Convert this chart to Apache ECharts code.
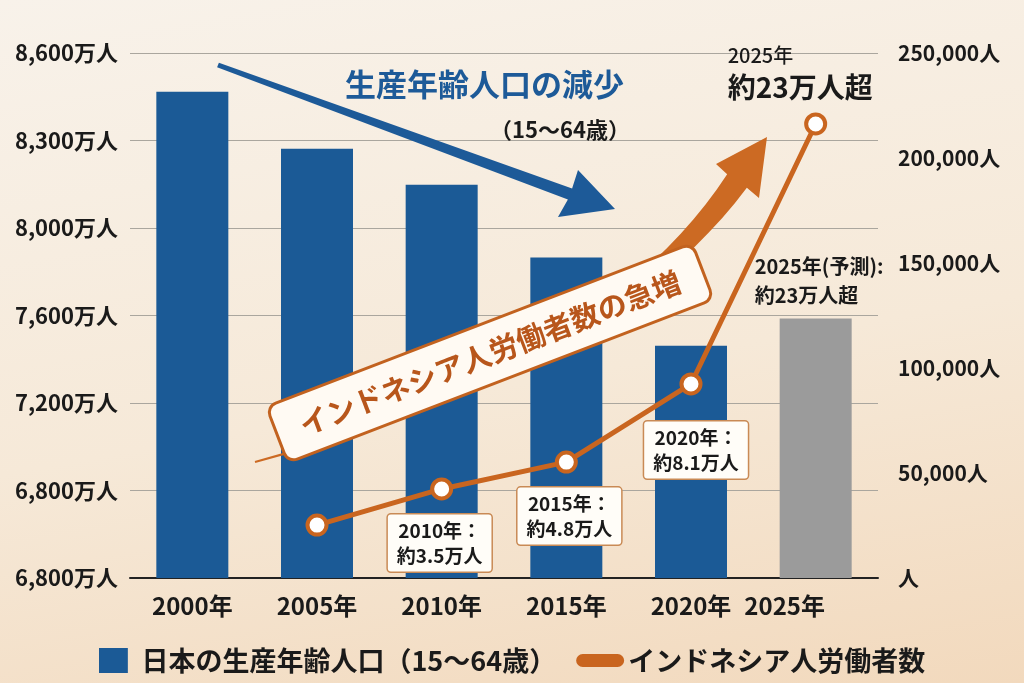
<!DOCTYPE html>
<html>
<head>
<meta charset="utf-8">
<script src="https://cdn.jsdelivr.net/npm/echarts@6/dist/echarts.min.js"></script>
<style>
  html, body { margin: 0; padding: 0; }
  #chart {
    width: 1024px; height: 683px;
    background: linear-gradient(170deg, #f8f2ea 0%, #f6e9d8 55%, #f2d9bd 100%);
  }
</style>
</head>
<body>
<div id="chart"></div>
<script>
// data
var years = ['2000年', '2005年', '2010年', '2015年', '2020年', '2025年'];
var workforce = [8467, 8272, 8148, 7865, 7462, 7586];          // 万人, 2025 = 予測
var indonesians = [null, 25200, 42400, 55200, 92400, 216200];  // 人
var leftTickValues = [6400, 6800, 7200, 7600, 8000, 8300, 8600];
var leftTickLabels = ['6,800万人', '6,800万人', '7,200万人', '7,600万人', '8,000万人', '8,300万人', '8,600万人'];
var rightTickLabels = ['人', '50,000人', '100,000人', '150,000人', '200,000人', '250,000人'];
var pointNotes = ['', '', '2010年：\n約3.5万人', '2015年：\n約4.8万人', '2020年：\n約8.1万人', ''];

var FONT = '"Noto Sans CJK JP", "Noto Sans", sans-serif';
var BLUE = '#1b5a96';
var ORANGE = '#c9651f';

// left axis ticks are not evenly spaced in value, so map 万人 onto tick slots
function toSlot(v) {
    for (var i = 1; i < leftTickValues.length; i++) {
        if (v <= leftTickValues[i]) {
            return (i - 1) + (v - leftTickValues[i - 1]) / (leftTickValues[i] - leftTickValues[i - 1]);
        }
    }
    return leftTickValues.length - 1;
}

var chart = echarts.init(document.getElementById('chart'));

// orange swoosh arrow
function swoosh() {
    var P0 = [255, 462], C = [607, 367], P2 = [737, 181];
    var left = [], right = [];
    for (var k = 0; k <= 24; k++) {
        var t = k / 24;
        var x = (1 - t) * (1 - t) * P0[0] + 2 * t * (1 - t) * C[0] + t * t * P2[0];
        var y = (1 - t) * (1 - t) * P0[1] + 2 * t * (1 - t) * C[1] + t * t * P2[1];
        var dx = 2 * (1 - t) * (C[0] - P0[0]) + 2 * t * (P2[0] - C[0]);
        var dy = 2 * (1 - t) * (C[1] - P0[1]) + 2 * t * (P2[1] - C[1]);
        var len = Math.sqrt(dx * dx + dy * dy);
        var nx = -dy / len, ny = dx / len;
        var w = 1 + 11 * Math.pow(t, 1.4);
        left.push([x - w * nx, y - w * ny]);
        right.push([x + w * nx, y + w * ny]);
    }
    return left.concat([[716, 164], [767, 137], [759, 198]], right.reverse());
}

var option = {
    backgroundColor: 'transparent',
    textStyle: { fontFamily: FONT },
    grid: { left: 130, right: 146, top: 53, bottom: 105 },
    legend: {
        left: 94,
        top: 642,
        itemWidth: 46,
        itemHeight: 25,
        itemGap: 20,
        textStyle: { fontSize: 27, fontWeight: 'bold', color: '#1a1a1a', fontFamily: FONT },
        data: [
            { name: '日本の生産年齢人口（15〜64歳）', icon: 'path://M0,0H30V26H0Z', itemStyle: { color: BLUE } },
            { name: 'インドネシア人労働者数', icon: 'path://M6,0H44A6,6 0 0 1 44,12H6A6,6 0 0 1 6,0Z', itemStyle: { color: ORANGE } }
        ]
    },
    xAxis: {
        type: 'category',
        data: years,
        axisLine: { lineStyle: { color: '#222', width: 2 } },
        axisTick: { show: false },
        axisLabel: {
            interval: 0,
            margin: 16,
            fontSize: 24,
            fontWeight: 'bold',
            color: '#1a1a1a',
            formatter: function (v, i) { return i === 5 ? '{s|' + v + '}' : v; },
            rich: { s: { fontSize: 24, fontWeight: 'bold', color: '#1a1a1a', padding: [0, 62, 0, 0] } }
        }
    },
    yAxis: [
        {
            type: 'value',
            min: 0, max: 6, interval: 1,
            axisLine: { show: false },
            axisTick: { show: false },
            splitLine: { lineStyle: { color: '#aaa69e', width: 1.2 } },
            axisLabel: {
                margin: 12,
                fontSize: 22,
                fontWeight: 'bold',
                color: '#1a1a1a',
                formatter: function (v) { return leftTickLabels[v]; }
            }
        },
        {
            type: 'value',
            position: 'right',
            min: 0, max: 250000, interval: 50000,
            axisLine: { show: false },
            axisTick: { show: false },
            splitLine: { show: false },
            axisLabel: {
                margin: 20,
                fontSize: 21,
                fontWeight: 'bold',
                color: '#1a1a1a',
                padding: [8, 0, 0, 0],
                formatter: function (v) { return rightTickLabels[v / 50000]; }
            }
        }
    ],
    series: [
        {
            name: '日本の生産年齢人口（15〜64歳）',
            type: 'bar',
            barWidth: 72,
            itemStyle: { color: BLUE },
            data: workforce.map(function (v, i) {
                var item = { value: toSlot(v) };
                if (i === 5) {
                    item.itemStyle = { color: '#9b9b9b' };
                    item.label = {
                        show: true,
                        position: 'top',
                        align: 'left',
                        offset: [-61, -4],
                        formatter: '2025年(予測):\n約23万人超',
                        fontSize: 20,
                        lineHeight: 29,
                        fontWeight: 'bold',
                        color: '#1a1a1a'
                    };
                }
                return item;
            })
        },
        {
            name: 'インドネシア人労働者数',
            type: 'line',
            yAxisIndex: 1,
            z: 5,
            symbol: 'circle',
            symbolSize: 19,
            lineStyle: { color: ORANGE, width: 5 },
            itemStyle: { color: '#fff', borderColor: ORANGE, borderWidth: 4 },
            data: indonesians.map(function (v, i) {
                var item = { value: v };
                if (pointNotes[i]) {
                    item.label = {
                        show: true,
                        position: 'bottom',
                        distance: i === 4 ? 26 : 14,
                        offset: [i === 2 ? -2 : (i === 3 ? 3 : 5), 0],
                        formatter: pointNotes[i],
                        fontSize: 19,
                        lineHeight: 25,
                        fontWeight: 'bold',
                        color: '#1a1a1a',
                        backgroundColor: '#fffdf8',
                        borderColor: '#c98a55',
                        borderWidth: 1.5,
                        borderRadius: 3,
                        padding: [4, 9, 3, 9]
                    };
                }
                if (i === 5) {
                    item.label = {
                        show: true,
                        position: 'top',
                        align: 'left',
                        offset: [-88, -3],
                        formatter: '{a|2025年}\n{b|約23万人超}',
                        rich: {
                            a: { fontSize: 20, fontWeight: 500, color: '#1a1a1a', lineHeight: 30 },
                            b: { fontSize: 28, fontWeight: 'bold', color: '#1a1a1a', lineHeight: 34 }
                        }
                    };
                }
                return item;
            })
        }
    ],
    graphic: [
        {
            type: 'polygon',
            z: 10,
            shape: {
                points: [[218.9, 62.7], [572.1, 188.4], [578, 170], [615, 209], [558, 217], [567.9, 199.6], [217.1, 67.3]]
            },
            style: { fill: '#1d5a98' }
        },
        {
            type: 'text',
            z: 12,
            x: 345, y: 84,
            style: {
                text: '生産年齢人口の減少',
                fontSize: 31, fontWeight: 'bold', fontFamily: FONT,
                fill: '#1d5a98', align: 'left', verticalAlign: 'middle'
            }
        },
        {
            type: 'text',
            z: 12,
            x: 630, y: 130,
            style: {
                text: '（15〜64歳）',
                fontSize: 22, fontWeight: 'bold', fontFamily: FONT,
                fill: '#1a1a1a', align: 'right', verticalAlign: 'middle'
            }
        },
        {
            type: 'polygon',
            z: 10,
            shape: { points: swoosh() },
            style: { fill: '#cc6a23' }
        },
        {
            type: 'group',
            x: 490, y: 353,
            rotation: 21 * Math.PI / 180,
            children: [
                {
                    type: 'rect',
                    z: 11,
                    shape: { x: -228, y: -30, width: 456, height: 60, r: 10 },
                    style: { fill: '#fffaf3', stroke: '#c2621f', lineWidth: 3 }
                },
                {
                    type: 'text',
                    z: 12,
                    style: {
                        text: 'インドネシア人労働者数の急増',
                        fontSize: 29, fontWeight: 'bold', fontFamily: FONT,
                        fill: '#b8561b', align: 'center', verticalAlign: 'middle'
                    }
                }
            ]
        }
    ]
};

chart.setOption(option);
</script>
</body>
</html>
